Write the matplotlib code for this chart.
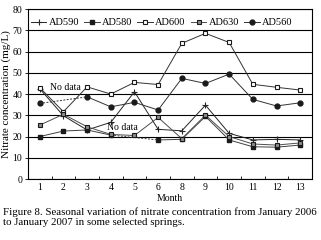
import matplotlib
matplotlib.use("Agg")
import matplotlib.pyplot as plt
import numpy as np

months = ['1', '2', '3', '4', '5', '6', '8', '9', '10', '11', '12', '13']
ad590 = [42.5, 29.8, 23.1, 26.7, 41.1, 23.4, 22.7, 34.8, 21.5, 18.4, 18.7, 18.4]
ad580 = [20.0, 22.6, 23.1, 20.7, None, 18.4, 18.7, 29.5, 18.4, 15.2, 15.0, 16.0]
ad600 = [43.0, 31.7, 43.4, 40.0, 45.5, 44.5, 63.9, 68.6, 64.3, 44.6, 43.2, 41.9]
ad630 = [25.4, 30.5, 24.6, 21.0, 20.5, 29.0, 19.0, 30.1, 20.0, 16.5, 16.0, 17.0]
ad560 = [35.6, None, 38.7, 34.0, 36.1, 32.5, 47.4, 45.0, 49.4, 37.5, 34.4, 35.9]

caption = ("Figure 8. Seasonal variation of nitrate concentration from January 2006\n"
           "to January 2007 in some selected springs.")

plt.rcParams['font.family'] = ['Liberation Serif', 'DejaVu Serif']

fig = plt.figure(figsize=(3.21, 2.40), dpi=100)
ax = fig.add_axes([0.087, 0.254, 0.885, 0.708])

x = np.arange(len(months))
styles = [
    ('AD590', ad590, dict(marker='+', ms=4, mew=0.8, color='0.15')),
    ('AD580', ad580, dict(marker='s', ms=3, mfc='0.1', mec='0.1', color='0.25')),
    ('AD600', ad600, dict(marker='s', ms=3.5, mfc='white', mec='0.1', mew=0.8, color='0.2')),
    ('AD630', ad630, dict(marker='s', ms=3.5, mfc='0.55', mec='0.1', mew=0.8, color='0.3')),
    ('AD560', ad560, dict(marker='o', ms=3.5, mfc='0.1', mec='0.1', color='0.2')),
]

for name, vals, st in styles:
    y = np.array([np.nan if v is None else v for v in vals], dtype=float)
    ax.plot(x, y, lw=0.7, label=name, **st)
    # dashed bridge over missing months
    for i in range(len(vals)):
        if vals[i] is None and 0 < i < len(vals) - 1:
            ax.plot([x[i - 1], x[i + 1]], [vals[i - 1], vals[i + 1]],
                    ls=(0, (2, 1.5)), lw=0.7, color=st['color'])

ax.text(0.42, 43, 'No data', fontsize=7, va='center', ha='left')
ax.text(2.85, 24.2, 'No data', fontsize=7, va='center', ha='left')

ax.set_xlim(-0.5, 11.5)
ax.set_ylim(0, 80)
ax.set_yticks(np.arange(0, 81, 10))
ax.yaxis.grid(True, color='black', lw=0.8)
ax.set_axisbelow(True)

ax.set_xticks(np.arange(-0.5, 12, 1))
ax.set_xticklabels([])
ax.set_xticks(x, minor=True)
ax.set_xticklabels(months, minor=True)
ax.tick_params(axis='x', which='major', direction='in', length=2.5, width=0.6)
ax.tick_params(axis='x', which='minor', length=0, labelsize=7, pad=3)
ax.tick_params(axis='y', direction='out', length=2.5, width=0.6, labelsize=7, pad=1.5)
for s in ax.spines.values():
    s.set_linewidth(0.8)

ax.set_xlabel('Month', fontsize=7, labelpad=1)
ax.set_ylabel('Nitrate concentration (mg/L)', fontsize=8, labelpad=1)

ax.legend(loc='upper center', bbox_to_anchor=(0.47, 0.985), ncol=5, frameon=False,
          fontsize=7.5, handlelength=1.5, handletextpad=0.2, columnspacing=0.5,
          borderaxespad=0.2)

fig.text(0.01, 0.135, caption, fontsize=7.8, ha='left', va='top', linespacing=1.05)

fig.savefig('out.png', dpi=100)
